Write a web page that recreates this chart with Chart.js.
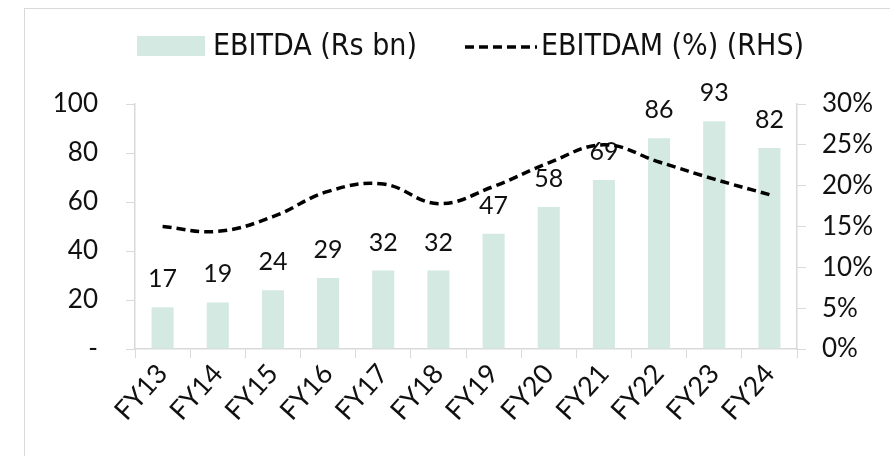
<!DOCTYPE html>
<html>
<head>
<meta charset="utf-8">
<title>EBITDA and EBITDAM</title>
<script src="https://cdn.jsdelivr.net/npm/chart.js@4.4.1/dist/chart.umd.min.js"></script>
<style>
  html, body { margin: 0; padding: 0; background: #fff; }
  #wrap { position: relative; width: 890px; height: 456px; overflow: hidden; }
  #frame {
    position: absolute; left: 24px; top: 8px; width: 900px; height: 500px;
    border-left: 1px solid #d9d9d9; border-top: 1px solid #d9d9d9;
  }
  #chart { position: absolute; left: 0; top: 0; }
</style>
</head>
<body>
<div id="wrap">
  <div id="frame"></div>
  <canvas id="chart" width="890" height="456"></canvas>
</div>
<script>
// chart data
const categories = ['FY13', 'FY14', 'FY15', 'FY16', 'FY17', 'FY18', 'FY19', 'FY20', 'FY21', 'FY22', 'FY23', 'FY24'];
const ebitda = [17, 19, 24, 29, 32, 32, 47, 58, 69, 86, 93, 82];          // Rs bn
const ebitdaMargin = [15.0, 14.4, 16.2, 19.3, 20.2, 17.8, 19.9, 22.8, 25.0, 22.9, 20.8, 18.9]; // %
const leftTicks = [0, 20, 40, 60, 80, 100];
const rightTicks = [0, 5, 10, 15, 20, 25, 30];
const seriesNames = ['EBITDA (Rs bn)', 'EBITDAM (%) (RHS)'];

const BAR_COLOR = '#d3e9e1';
const AXIS_COLOR = '#d9d9d9';
const TEXT_COLOR = '#111111';
const TICK_FONT = { family: 'Lato, "Noto Sans", sans-serif', size: 26 };
const XTICK_FONT = { family: 'Lato, "Noto Sans", sans-serif', size: 27 };
const LEGEND_FONT = '30px "Liberation Sans Narrow", "DejaVu Sans Condensed", sans-serif';

// value labels above the bars, drawn before the line so the line sits on top
const barLabels = {
    id: 'barLabels',
    afterDatasetDraw: function(chart, args) {
        if (args.index !== 0) return;
        const ctx = chart.ctx;
        ctx.save();
        ctx.font = TICK_FONT.size - 1 + 'px ' + TICK_FONT.family;
        ctx.fillStyle = TEXT_COLOR;
        ctx.textAlign = 'center';
        ctx.textBaseline = 'alphabetic';
        args.meta.data.forEach(function(bar, i) {
            ctx.fillText(String(ebitda[i]), bar.x, bar.y - 20);
        });
        ctx.restore();
    }
};

// legend drawn by hand: filled box + dashed line sample
const topLegend = {
    id: 'topLegend',
    afterDraw: function(chart) {
        const ctx = chart.ctx;
        const midY = 46;
        ctx.save();
        ctx.font = LEGEND_FONT;
        ctx.fillStyle = TEXT_COLOR;
        ctx.textBaseline = 'middle';

        let x = 137;
        ctx.fillStyle = BAR_COLOR;
        ctx.fillRect(x, midY - 10, 68, 20);
        x += 76;
        ctx.fillStyle = TEXT_COLOR;
        ctx.fillText(seriesNames[0], x, midY + 1);
        x += ctx.measureText(seriesNames[0]).width + 48;

        ctx.strokeStyle = '#000';
        ctx.lineWidth = 3.5;
        ctx.setLineDash([9, 5]);
        ctx.beginPath();
        ctx.moveTo(x, midY + 1);
        ctx.lineTo(x + 72, midY + 1);
        ctx.stroke();
        ctx.setLineDash([]);
        x += 76;
        ctx.fillText(seriesNames[1], x, midY + 1);
        ctx.restore();
    }
};

const ctx = document.getElementById('chart').getContext('2d');

new Chart(ctx, {
    type: 'bar',
    data: {
        labels: categories,
        datasets: [{
            type: 'bar',
            label: seriesNames[0],
            data: ebitda,
            backgroundColor: BAR_COLOR,
            borderWidth: 0,
            barPercentage: 0.4,
            categoryPercentage: 1.0,
            yAxisID: 'y',
            order: 1
        }, {
            type: 'line',
            label: seriesNames[1],
            data: ebitdaMargin,
            borderColor: '#000',
            borderWidth: 3.5,
            borderDash: [9, 5],
            tension: 0.4,
            pointRadius: 0,
            fill: false,
            yAxisID: 'y1',
            order: 0
        }]
    },
    options: {
        responsive: false,
        animation: false,
        events: [],
        layout: { padding: { top: 104, left: 0, right: 0, bottom: 0 } },
        plugins: {
            legend: { display: false },
            tooltip: { enabled: false }
        },
        scales: {
            x: {
                offset: true,
                grid: {
                    offset: true,
                    drawOnChartArea: false,
                    drawTicks: true,
                    tickLength: 9,
                    color: AXIS_COLOR
                },
                border: { color: AXIS_COLOR, width: 1.5 },
                ticks: {
                    color: TEXT_COLOR,
                    font: XTICK_FONT,
                    maxRotation: 48,
                    minRotation: 48,
                    padding: 0
                },
                afterFit: function(scale) { scale.height = 107; }
            },
            y: {
                position: 'left',
                min: 0,
                max: 100,
                afterBuildTicks: function(scale) {
                    scale.ticks = leftTicks.map(function(v) { return { value: v }; });
                },
                grid: {
                    drawOnChartArea: false,
                    drawTicks: true,
                    tickLength: 9,
                    color: AXIS_COLOR
                },
                border: { color: AXIS_COLOR, width: 1.5 },
                ticks: {
                    color: TEXT_COLOR,
                    font: TICK_FONT,
                    padding: 28,
                    callback: function(value) { return value === 0 ? '-' : value; }
                },
                afterFit: function(scale) { scale.width = 135; }
            },
            y1: {
                position: 'right',
                min: 0,
                max: 30,
                afterBuildTicks: function(scale) {
                    scale.ticks = rightTicks.map(function(v) { return { value: v }; });
                },
                grid: {
                    drawOnChartArea: false,
                    drawTicks: true,
                    tickLength: 9,
                    color: AXIS_COLOR
                },
                border: { color: AXIS_COLOR, width: 1.5 },
                ticks: {
                    color: TEXT_COLOR,
                    font: TICK_FONT,
                    padding: 16,
                    callback: function(value) { return value + '%'; }
                },
                afterFit: function(scale) { scale.width = 93; }
            }
        }
    },
    plugins: [barLabels, topLegend]
});
</script>
</body>
</html>
